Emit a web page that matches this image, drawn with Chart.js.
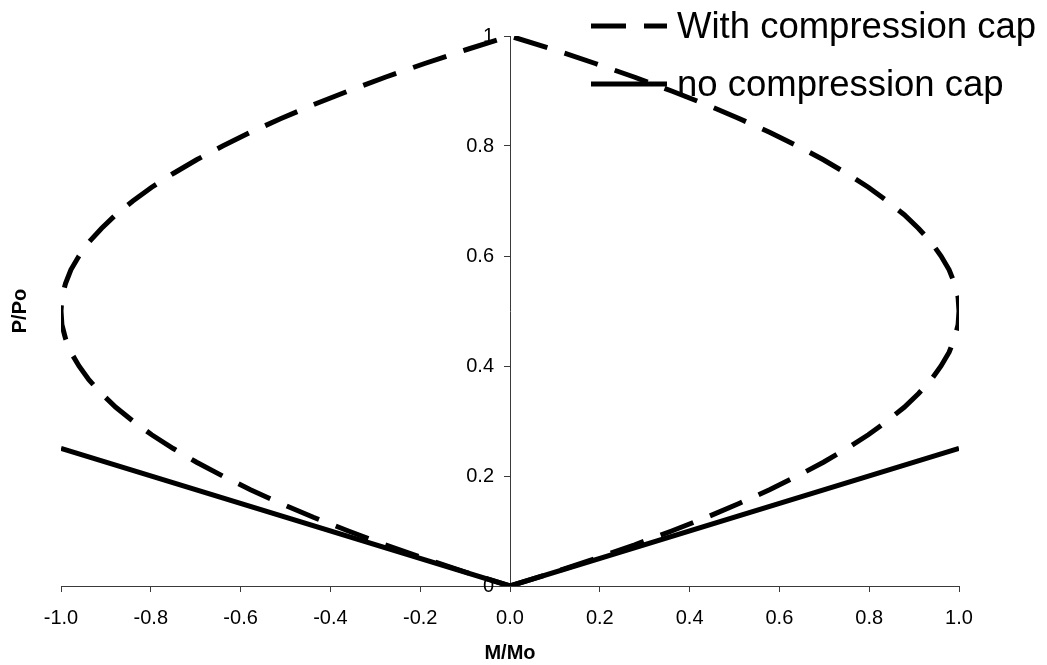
<!DOCTYPE html>
<html>
<head>
<meta charset="utf-8">
<title>P/Po – M/Mo interaction</title>
<script src="https://cdn.jsdelivr.net/npm/chart.js@4/dist/chart.umd.min.js"></script>
<style>
  html, body { margin: 0; padding: 0; background: #ffffff; }
  #wrap { width: 1047px; height: 665px; position: relative; }
</style>
</head>
<body>
<div id="wrap"><canvas id="chart"></canvas></div>
<script>
// Interaction curve with the compression cap (M/Mo, P/Po), traced from origin
// up the right branch, over the top and back down the left branch.
const capM = [0, 0.098, 0.19, 0.278, 0.36, 0.438, 0.51, 0.578, 0.64, 0.698, 0.75, 0.798, 0.84, 0.878, 0.91, 0.938, 0.96, 0.978, 0.99, 0.998, 1.0,
              0.998, 0.99, 0.978, 0.96, 0.938, 0.91, 0.878, 0.84, 0.798, 0.75, 0.698, 0.64, 0.578, 0.51, 0.438, 0.36, 0.278, 0.19, 0.098, 0,
              -0.098, -0.19, -0.278, -0.36, -0.438, -0.51, -0.578, -0.64, -0.698, -0.75, -0.798, -0.84, -0.878, -0.91, -0.938, -0.96, -0.978, -0.99, -0.998, -1.0,
              -0.998, -0.99, -0.978, -0.96, -0.938, -0.91, -0.878, -0.84, -0.798, -0.75, -0.698, -0.64, -0.578, -0.51, -0.438, -0.36, -0.278, -0.19, -0.098, 0];
const capP = [0, 0.025, 0.05, 0.075, 0.10, 0.125, 0.15, 0.175, 0.20, 0.225, 0.25, 0.275, 0.30, 0.325, 0.35, 0.375, 0.40, 0.425, 0.45, 0.475, 0.50,
              0.525, 0.55, 0.575, 0.60, 0.625, 0.65, 0.675, 0.70, 0.725, 0.75, 0.775, 0.80, 0.825, 0.85, 0.875, 0.90, 0.925, 0.95, 0.975, 1.0,
              0.975, 0.95, 0.925, 0.90, 0.875, 0.85, 0.825, 0.80, 0.775, 0.75, 0.725, 0.70, 0.675, 0.65, 0.625, 0.60, 0.575, 0.55, 0.525, 0.50,
              0.475, 0.45, 0.425, 0.40, 0.375, 0.35, 0.325, 0.30, 0.275, 0.25, 0.225, 0.20, 0.175, 0.15, 0.125, 0.10, 0.075, 0.05, 0.025, 0];

// Interaction without the compression cap
const noCapM = [-1.0, 0, 1.0];
const noCapP = [0.25, 0, 0.25];

const seriesNames = ['With compression cap', 'no compression cap'];
const xTickStep = 0.2;
const yTickStep = 0.2;

const zip = (xs, ys) => xs.map((x, i) => ({ x: x, y: ys[i] }));

const FONT = '"Liberation Sans", Arial, Helvetica, sans-serif';
Chart.defaults.font.family = FONT;
Chart.defaults.color = '#000000';

// Legend drawn over the upper right of the plot, with line samples
const lineLegend = {
  id: 'lineLegend',
  afterDraw(chart, args, opts) {
    const ctx = chart.ctx;
    ctx.save();
    chart.data.datasets.forEach((ds, i) => {
      const y = opts.top + i * opts.rowGap;
      ctx.beginPath();
      ctx.setLineDash(ds.borderDash || []);
      ctx.lineWidth = ds.borderWidth;
      ctx.strokeStyle = ds.borderColor;
      ctx.lineCap = 'butt';
      ctx.moveTo(opts.left, y);
      ctx.lineTo(opts.left + opts.sampleWidth, y);
      ctx.stroke();
      ctx.setLineDash([]);
      ctx.fillStyle = '#000000';
      ctx.font = opts.fontSize + 'px ' + FONT;
      ctx.textBaseline = 'alphabetic';
      ctx.textAlign = 'left';
      ctx.fillText(ds.label, opts.left + opts.sampleWidth + opts.textGap, y + opts.baselineShift);
    });
    ctx.restore();
  }
};

// Moves the value axis so that it crosses the horizontal axis at M/Mo = 0;
// the box keeps room on its left for the tick labels.
const crossAtZero = {
  id: 'crossAtZero',
  afterLayout(chart) {
    const y = chart.scales.y;
    const x0 = chart.scales.x.getPixelForValue(0);
    y.left = x0 - 90;
    y.right = x0;
    y.width = 90;
  }
};

const axisColor = '#3a3a3a';

new Chart(document.getElementById('chart'), {
  type: 'scatter',
  data: {
    datasets: [
      {
        label: seriesNames[0],
        data: zip(capM, capP),
        showLine: true,
        borderColor: '#000000',
        borderWidth: 5,
        borderDash: [35, 18],
        tension: 0,
        pointRadius: 0,
        fill: false
      },
      {
        label: seriesNames[1],
        data: zip(noCapM, noCapP),
        showLine: true,
        borderColor: '#000000',
        borderWidth: 5,
        tension: 0,
        pointRadius: 0,
        fill: false
      }
    ]
  },
  options: {
    responsive: true,
    maintainAspectRatio: false,
    animation: false,
    layout: { padding: { left: 0, right: 88, top: 36, bottom: 0 } },
    plugins: {
      legend: { display: false },
      tooltip: { enabled: false },
      lineLegend: {
        left: 591, top: 26, rowGap: 58, sampleWidth: 76, textGap: 10,
        fontSize: 36.5, baselineShift: 12
      }
    },
    scales: {
      x: {
        type: 'linear',
        position: 'bottom',
        min: -1, max: 1,
        afterFit: s => { s.height = 79; },
        ticks: {
          stepSize: xTickStep,
          padding: 14,
          font: { size: 20 },
          color: '#000000',
          callback: v => (Math.abs(v) < 1e-9 ? 0 : v).toFixed(1)
        },
        grid: { drawOnChartArea: false, drawTicks: true, tickLength: 6, color: axisColor },
        border: { display: true, color: axisColor, width: 1 },
        title: {
          display: true, text: 'M/Mo', color: '#000000',
          font: { size: 20, weight: 'bold' },
          padding: { top: 0, bottom: 0 }
        }
      },
      y: {
        type: 'linear',
        position: 'left',
        min: 0, max: 1,
        afterFit: s => { s.width = 0; },
        ticks: {
          stepSize: yTickStep,
          padding: 10,
          font: { size: 20 },
          color: '#000000',
          callback: v => (Math.abs(v) < 1e-9 ? '0' : (Math.abs(v - 1) < 1e-9 ? '1' : v.toFixed(1)))
        },
        grid: { drawOnChartArea: false, drawTicks: true, tickLength: 6, color: axisColor },
        border: { display: true, color: axisColor, width: 1 }
      },
      yTitle: {
        type: 'linear',
        position: 'left',
        weight: 1,
        min: 0, max: 1,
        afterFit: s => { s.width = 61; },
        ticks: { display: false },
        grid: { display: false, drawTicks: false },
        border: { display: false },
        title: {
          display: true, text: 'P/Po', color: '#000000',
          font: { size: 20, weight: 'bold' },
          padding: { top: 8, bottom: 0 }
        }
      }
    }
  },
  plugins: [crossAtZero, lineLegend]
});
</script>
</body>
</html>
